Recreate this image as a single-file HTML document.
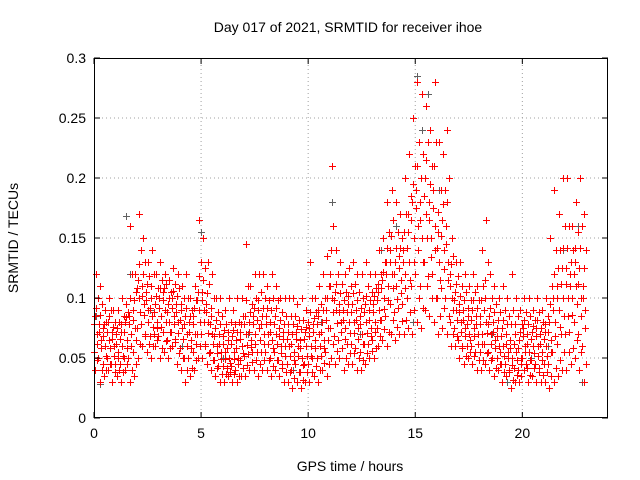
<!DOCTYPE html>
<html><head><meta charset="utf-8"><style>
html,body{margin:0;padding:0;background:#fff;}
svg{display:block;font-family:"Liberation Sans",sans-serif;}
</style></head><body>
<svg id="chart" width="640" height="480" viewBox="0 0 640 480" xmlns="http://www.w3.org/2000/svg">
<rect x="0" y="0" width="640" height="480" fill="#fff"/>
<text x="348" y="32" font-size="14" text-anchor="middle">Day 017 of 2021, SRMTID for receiver ihoe</text>
<text x="350" y="471" font-size="14" text-anchor="middle">GPS time / hours</text>
<text x="0" y="0" font-size="14" text-anchor="middle" transform="translate(18,238) rotate(-90)">SRMTID / TECUs</text>
<g id="grid"></g><g id="marks" shape-rendering="crispEdges"></g><g id="axes"></g>
</svg>
<script>
const xTicks=[0,5,10,15,20];
const yTicks=[0,0.05,0.1,0.15,0.2,0.25,0.3];
const yTickLabels=["0","0.05","0.1","0.15","0.2","0.25","0.3"];
const binStart=0, binWidth=0.2;
const s1=[.04,.03,.035,.04,.03, .035,.03,.04,.03,.035, .05,.06,.055,.05,.06, .05,.055,.05,.06,.045, .04,.03,.035,.04,.05, .05,.045,.04,.035,.03, .03,.035,.03,.03,.035, .035,.04,.04,.035,.04, .04,.035,.04,.035,.03, .03,.025,.03,.025,.03, .03,.035,.03,.04,.035, .05,.045,.05,.04,.045, .045,.04,.04,.045,.05, .05,.06,.065,.06,.07, .065,.07,.07,.075,.07, .08,.075,.09,.085,.08, .07,.075,.07,.06,.06, .05,.045,.05,.045,.04, .04,.045,.04,.035,.04, .03,.035,.025,.03,.03, .04,.03,.035,.03,.03, .03,.025,.03,.035,.04, .04,.045,.05,.04,.03];
const s2=[.055,.05,.045,.05,.045, .045,.045,.05,.05,.055, .075,.078,.07,.068,.07, .068,.072,.065,.072,.063, .058,.05,.05,.055,.07, .07,.062,.055,.048,.043, .043,.042,.043,.04,.048, .052,.053,.055,.055,.055, .055,.05,.055,.048,.045, .045,.04,.045,.038,.045, .045,.05,.05,.052,.055, .075,.068,.065,.058,.062, .062,.058,.055,.062,.062, .065,.075,.082,.085,.095, .088,.092,.095,.1,.11, .12,.11,.13,.118,.12, .1,.108,.1,.08,.075, .065,.06,.06,.06,.055, .055,.062,.055,.05,.05, .045,.045,.038,.042,.04, .05,.042,.048,.045,.042, .045,.045,.055,.062,.07, .07,.072,.08,.07,.06];
const s3=[.07,.065,.06,.065,.06, .055,.06,.065,.07,.075, .1,.095,.09,.085,.08, .085,.09,.08,.085,.08, .075,.07,.065,.07,.09, .09,.08,.07,.06,.055, .055,.05,.055,.05,.06, .07,.065,.07,.075,.07, .07,.065,.07,.06,.06, .06,.055,.06,.05,.06, .06,.065,.07,.065,.075, .1,.09,.08,.075,.08, .08,.075,.07,.08,.075, .08,.09,.1,.11,.12, .11,.115,.12,.13,.15, .16,.15,.17,.15,.16, .13,.14,.13,.1,.09, .08,.075,.07,.075,.07, .07,.08,.07,.065,.06, .06,.055,.05,.055,.05, .06,.055,.06,.06,.055, .06,.065,.08,.09,.1, .1,.1,.11,.1,.09];
const s4=[.085,.078,.075,.08,.072, .07,.072,.08,.085,.09, .115,.11,.105,.1,.095, .1,.105,.095,.1,.095, .09,.085,.08,.085,.105, .105,.095,.085,.075,.07, .068,.065,.068,.065,.072, .085,.08,.085,.09,.085, .085,.08,.085,.075,.072, .072,.07,.072,.065,.072, .075,.078,.085,.08,.09, .12,.105,.095,.09,.095, .095,.09,.085,.095,.09, .095,.105,.115,.13,.14, .13,.135,.14,.155,.18, .19,.18,.2,.18,.19, .155,.165,.16,.12,.105, .095,.09,.085,.09,.085, .085,.1,.085,.08,.075, .075,.07,.065,.07,.065, .075,.07,.072,.075,.07, .072,.08,.1,.11,.125, .125,.12,.13,.125,.11];
const s5=[.1,.095,.08,.09,.08, .08,.085,.088,.12,.105, .14,.13,.118,.12,.108, .115,.112,.105,.112,.108, .1,.1,.09,.098,.13, .125,.112,.1,.088,.085, .078,.08,.078,.08,.085, .11,.095,.1,.105,.1, .098,.1,.098,.088,.085, .085,.085,.082,.082,.08, .1,.088,.095,.1,.11, .16,.12,.112,.105,.11, .112,.105,.1,.11,.105, .108,.12,.13,.155,.165, .155,.15,.17,.185,.21, .23,.22,.23,.21,.23, .19,.19,.2,.135,.118, .11,.105,.098,.105,.098, .11,.13,.1,.095,.088, .09,.085,.09,.085,.078, .088,.085,.082,.088,.08, .085,.11,.14,.14,.16, .16,.14,.155,.16,.14];
const s6=[.12,.11,.09,.1,.09, .09,.1,.095,.16,.12, .17,.15,.13,.14,.12, .13,.12,.115,.125,.12, .11,.12,.1,.11,.165, .15,.13,.12,.1,.1, .09,.1,.09,.1,.1, .145,.11,.12,.12,.12, .11,.12,.11,.1,.1, .1,.1,.095,.1,.09, .13,.1,.11,.12,.135, .21,.14,.13,.12,.125, .13,.12,.12,.13,.12, .12,.14,.15,.18,.19, .18,.17,.2,.22,.25, .28,.27,.26,.24,.28, .23,.22,.24,.15,.13, .13,.12,.11,.12,.11, .14,.165,.12,.11,.1, .11,.1,.12,.1,.09, .1,.1,.09,.1,.09, .1,.15,.19,.17,.2, .2,.16,.18,.2,.17];
const s7=[.062,.058,.052,.058,.052, .05,.052,.058,.06,.065, .088,.086,.08,.076,.075, .076,.08,.072,.078,.071, .066,.06,.058,.062,.08, .08,.071,.062,.054,.049, .049,.046,.049,.045,.054, .061,.059,.062,.065,.062, .062,.058,.062,.054,.052, .052,.048,.052,.044,.052, .052,.058,.06,.058,.065, .088,.079,.072,.066,.071, .071,.066,.062,.071,.068, .072,.082,.091,.098,.108, .099,.104,.108,.115,.13, .14,.13,.15,.134,.14, .115,.124,.115,.09,.082, .072,.068,.065,.068,.062, .062,.071,.062,.058,.055, .052,.05,.044,.048,.045, .055,.048,.054,.052,.048, .052,.055,.068,.076,.085, .085,.086,.095,.085,.075];
const s8=[.078,.072,.068,.072,.066, .062,.066,.072,.078,.082, .108,.102,.098,.092,.088, .092,.098,.088,.092,.088, .082,.078,.072,.078,.098, .098,.088,.078,.068,.062, .062,.058,.062,.058,.066, .078,.072,.078,.082,.078, .078,.072,.078,.068,.066, .066,.062,.066,.058,.066, .068,.072,.078,.072,.082, .11,.098,.088,.082,.088, .088,.082,.078,.088,.082, .088,.098,.108,.12,.13, .12,.125,.13,.142,.165, .175,.165,.185,.165,.175, .142,.152,.145,.11,.098, .088,.082,.078,.082,.078, .078,.09,.078,.072,.068, .068,.062,.058,.062,.058, .068,.062,.066,.068,.062, .066,.072,.09,.1,.112, .112,.11,.12,.112,.1];
const s9=[.092,.086,.078,.085,.076, .075,.078,.084,.1,.098, .128,.12,.112,.11,.102, .108,.108,.1,.106,.102, .095,.092,.085,.092,.118, .115,.104,.092,.082,.078, .073,.072,.073,.072,.078, .098,.088,.092,.098,.092, .092,.09,.092,.082,.078, .078,.078,.077,.074,.076, .088,.083,.09,.09,.1, .14,.112,.104,.098,.102, .104,.098,.092,.102,.098, .102,.112,.122,.142,.152, .142,.142,.155,.17,.195, .21,.2,.215,.195,.21, .172,.178,.18,.128,.112, .102,.098,.092,.098,.092, .098,.115,.092,.088,.082, .082,.078,.078,.078,.072, .082,.078,.077,.082,.075, .078,.095,.12,.125,.142, .142,.13,.142,.142,.125];
const s10=[.048,.04,.04,.045,.038, .04,.038,.045,.04,.045, .062,.068,.062,.06,.065, .058,.064,.058,.066,.054, .05,.04,.042,.048,.06, .06,.054,.048,.042,.037, .037,.038,.037,.035,.042, .044,.047,.048,.045,.048, .048,.043,.048,.042,.038, .038,.033,.038,.032,.038, .038,.043,.04,.046,.045, .062,.056,.058,.05,.054, .054,.05,.048,.054,.056, .058,.068,.074,.072,.082, .076,.081,.082,.088,.09, .1,.092,.11,.1,.1, .085,.092,.085,.07,.068, .058,.052,.055,.052,.048, .048,.054,.048,.042,.045, .038,.04,.032,.036,.035, .045,.036,.042,.038,.036, .038,.035,.042,.048,.055, .055,.058,.065,.055,.045];
const greyTimes=[0.3,1.5,1.7,2.6,4.1,6.0,7.2,9.3,10.6,11.1,12.4,13.4,14.1,14.7,15.1,15.3,15.6,16.1,16.7,17.4,18.6,19.3,20.4,21.2,21.9,22.6,22.8,0.1,5.0,14.9];
const greyValues=[.028,.168,.12,.09,.06,.05,.07,.04,.08,.18,.07,.14,.16,.22,.285,.24,.27,.19,.1,.06,.07,.03,.05,.06,.14,.16,.03,.085,.155,.08];
const seriesList=[s1,s2,s3,s4,s5,s6,s7,s8,s9,s10];
const offsets=[0.06,0,0.12,0.04,0.18,0.1,0.14,0.02,0.08,0.16];
const X0=94,X1=608,Y0=418,Y1=58,XMAX=24,YMAX=0.3;
const xs=v=>X0+(X1-X0)*v/XMAX;
const ys=v=>Y0-(Y0-Y1)*v/YMAX;
const NS="http://www.w3.org/2000/svg";
function mk(tag,attrs,parent){const e=document.createElementNS(NS,tag);for(const k in attrs)e.setAttribute(k,attrs[k]);parent.appendChild(e);return e;}
const grid=document.getElementById('grid'),marks=document.getElementById('marks'),axes=document.getElementById('axes');
xTicks.forEach((t,i)=>{
  const x=xs(t);
  if(t>0){const g=mk('line',{x1:x,x2:x,y1:Y0,y2:Y1,stroke:'#a0a0a0','stroke-dasharray':'1,3','stroke-width':1},grid);
  
  }
  mk('line',{x1:x,x2:x,y1:Y0,y2:Y0-6,stroke:'#000'},axes);
  mk('line',{x1:x,x2:x,y1:Y1,y2:Y1+6,stroke:'#000'},axes);
  const l=mk('text',{x:x,y:Y0+20,'font-size':14,'text-anchor':'middle'},axes);l.textContent=String(t);
  
  
});
yTicks.forEach((t,i)=>{
  const y=ys(t);
  if(t>0&&t<YMAX){const g=mk('line',{x1:X0,x2:X1,y1:y,y2:y,stroke:'#a0a0a0','stroke-dasharray':'1,3','stroke-width':1},grid);
  
  }
  mk('line',{x1:X0,x2:X0+6,y1:y,y2:y,stroke:'#000'},axes);
  mk('line',{x1:X1,x2:X1-6,y1:y,y2:y,stroke:'#000'},axes);
  const l=mk('text',{x:X0-8,y:y+5,'font-size':14,'text-anchor':'end'},axes);l.textContent=yTickLabels[i];
  
  
});
const frame=mk('rect',{x:X0+0.5,y:Y1+0.5,width:X1-X0-1,height:Y0-Y1-1,fill:'none',stroke:'#000'},axes);


function plus(x,y,c,name){
  x=Math.round(x)+0.5;y=Math.round(y)+0.5;
  const p=mk('path',{d:`M${x-3.5},${y}H${x+3.5}M${x},${y-3.5}V${y+3.5}`,stroke:c,'stroke-width':1,fill:'none'},marks);
  
  
}
greyTimes.forEach((t,i)=>plus(xs(t),ys(greyValues[i]),'#606060','grey-point'));
seriesList.forEach((s,k)=>{
  s.forEach((v,i)=>plus(xs(binStart+i*binWidth+offsets[k]),ys(v),'#ff0000','srmtid-point'));
});
</script>
</body></html>
